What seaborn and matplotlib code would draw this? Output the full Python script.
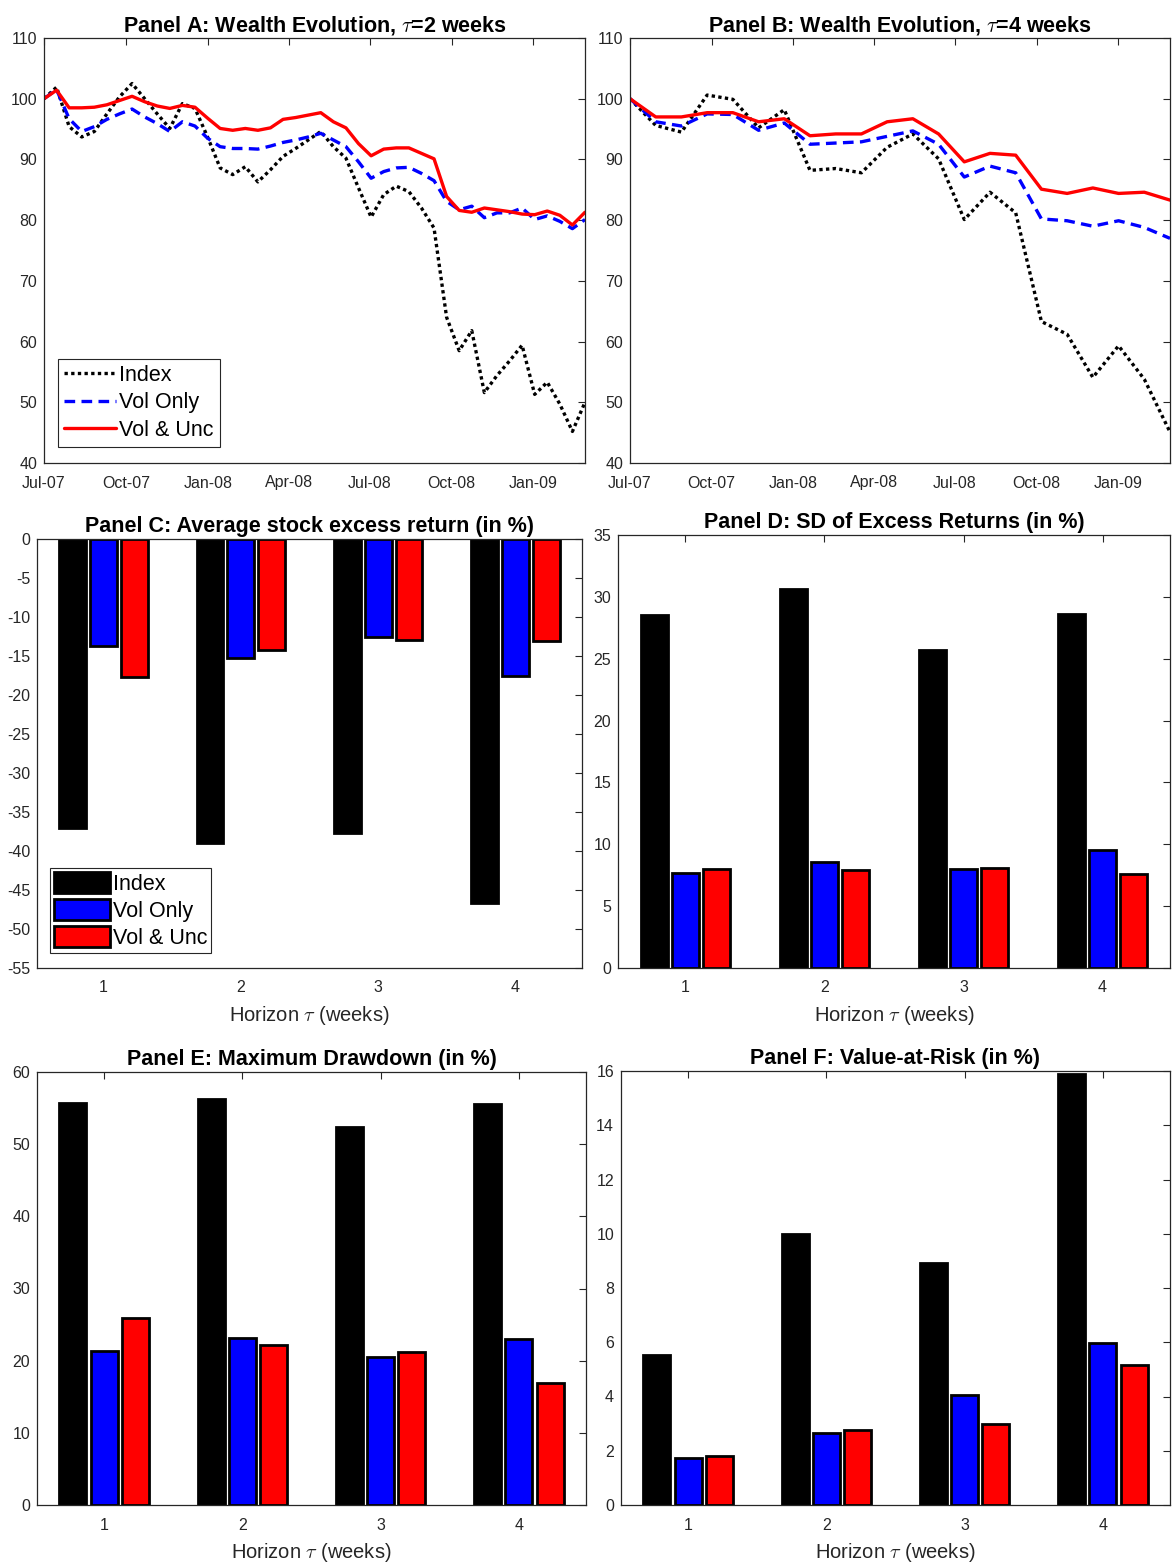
import numpy as np
import pandas as pd
import matplotlib
matplotlib.use("Agg")
import matplotlib.pyplot as plt
import matplotlib.dates as mdates
from matplotlib.patches import Patch
from matplotlib.lines import Line2D
import seaborn as sns

sns.set_style("white")
plt.rcParams["font.family"] = ["Liberation Sans", "DejaVu Sans"]
plt.rcParams["mathtext.fontset"] = "cm"
plt.rcParams["axes.unicode_minus"] = False

# ---------------- data ----------------
start_date = "2007-07-01"
end_date = "2009-02-28"

# Panel A (tau = 2 weeks), 44 bi-weekly observations
index_a = [100, 101.9, 95.4, 93.7, 94.6, 97.5, 100.3, 102.5, 100.0, 97.5, 95.1, 99.2,
           98.4, 93.7, 88.6, 87.5, 88.8, 86.3, 88.3, 90.5, 91.8, 93.2, 94.6, 92.1,
           90.2, 85.3, 80.5, 84.2, 85.6, 84.7, 82.0, 78.7, 64.0, 58.5, 61.8, 51.6,
           54.4, 56.8, 59.4, 51.3, 53.3, 49.7, 45.2, 50.0]
vol_a = [100, 101.5, 96.7, 94.6, 95.4, 96.6, 97.5, 98.3, 97.0, 95.9, 94.6, 96.2,
         95.5, 93.5, 92.1, 91.8, 91.8, 91.7, 92.2, 92.8, 93.2, 93.7, 94.3, 93.2,
         92.1, 89.6, 86.9, 88.0, 88.6, 88.7, 87.7, 86.5, 83.1, 81.7, 82.3, 80.4,
         81.2, 81.2, 82.0, 80.1, 80.7, 79.8, 78.6, 80.1]
unc_a = [100, 101.4, 98.5, 98.5, 98.6, 99.0, 99.7, 100.4, 99.5, 98.8, 98.4, 98.9,
         98.6, 96.8, 95.1, 94.8, 95.1, 94.8, 95.2, 96.6, 96.9, 97.3, 97.7, 96.2,
         95.2, 92.6, 90.6, 91.7, 91.9, 91.9, 91.0, 90.1, 83.9, 81.6, 81.3, 82.0,
         81.7, 81.4, 81.0, 80.9, 81.5, 80.8, 79.2, 81.3]

# Panel B (tau = 4 weeks), 22 four-weekly observations
index_b = [100, 95.6, 94.5, 100.6, 99.9, 95.2, 98.2, 88.2, 88.5, 87.8, 92.0, 94.2,
           90.1, 80.1, 84.6, 81.2, 63.3, 61.2, 54.1, 59.3, 53.8, 45.1]
vol_b = [100, 96.2, 95.5, 97.5, 97.4, 94.8, 96.0, 92.5, 92.7, 92.9, 93.8, 94.7,
         92.5, 87.1, 88.9, 87.8, 80.2, 79.9, 79.0, 79.9, 78.8, 77.0]
unc_b = [100, 97.0, 97.0, 97.7, 97.7, 96.2, 96.7, 93.9, 94.2, 94.2, 96.2, 96.7,
         94.2, 89.6, 91.0, 90.7, 85.1, 84.4, 85.3, 84.4, 84.6, 83.3]

horizons = ["1", "2", "3", "4"]
series_names = ["Index", "Vol Only", "Vol & Unc"]
series_colors = ["#000000", "#0000ff", "#ff0000"]

# Panel C: average excess return (%)
ret_index = [-37.1, -39.0, -37.7, -46.7]
ret_vol = [-13.7, -15.2, -12.6, -17.6]
ret_unc = [-17.7, -14.2, -12.9, -13.1]
# Panel D: SD of excess returns (%)
sd_index = [28.5, 30.6, 25.7, 28.65]
sd_vol = [7.7, 8.6, 8.0, 9.5]
sd_unc = [8.0, 7.95, 8.1, 7.6]
# Panel E: maximum drawdown (%)
mdd_index = [55.7, 56.25, 52.4, 55.6]
mdd_vol = [21.4, 23.2, 20.5, 23.0]
mdd_unc = [25.9, 22.15, 21.2, 16.85]
# Panel F: value-at-risk (%)
var_index = [5.53, 9.98, 8.92, 15.9]
var_vol = [1.72, 2.64, 4.04, 5.99]
var_unc = [1.79, 2.78, 2.97, 5.17]

# ---------------- layout ----------------
W, H = 1174, 1563
fig = plt.figure(figsize=(W / 100, H / 100), dpi=100)


def rect(l, r, t, b):
    return [l / W, 1 - b / H, (r - l) / W, (b - t) / H]


AX_COL = "#262626"
TICK_FS = 11.5
TITLE_FS = 15.5
LEG_FS = 15.5
XLAB_FS = 14.5


def style_axes(ax):
    for s in ax.spines.values():
        s.set_visible(True)
        s.set_color(AX_COL)
        s.set_linewidth(0.9)
    ax.tick_params(direction="in", length=5, width=0.8, colors=AX_COL,
                   labelsize=TICK_FS, top=True, right=True,
                   labelcolor=AX_COL)
    ax.tick_params(axis="y", pad=5)
    ax.grid(False)
    ax.set_facecolor("white")


def wealth_panel(rect_px, idx, vol, unc, title, legend):
    ax = fig.add_axes(rect(*rect_px))
    n = len(idx)
    dates = pd.date_range(start_date, end_date, periods=n)
    df = pd.DataFrame({"date": dates, "Index": idx, "Vol Only": vol, "Vol & Unc": unc})
    sns.lineplot(data=df, x="date", y="Index", ax=ax, color="black", lw=2.4)
    ax.lines[-1].set_dashes([1, 1])
    sns.lineplot(data=df, x="date", y="Vol Only", ax=ax, color="#0000ff", lw=2.4)
    ax.lines[-1].set_dashes([3.2, 1.9])
    sns.lineplot(data=df, x="date", y="Vol & Unc", ax=ax, color="#ff0000", lw=2.4)
    ax.set_xlim(dates[0], dates[-1])
    ax.set_ylim(40, 110)
    ax.set_yticks(np.arange(40, 111, 10))
    ax.xaxis.set_major_locator(mdates.MonthLocator(bymonth=[1, 4, 7, 10]))
    ax.xaxis.set_major_formatter(mdates.DateFormatter("%b-%y"))
    ax.set_xlabel("")
    ax.set_ylabel("")
    style_axes(ax)
    ax.tick_params(axis="x", pad=9)
    ax.set_title(title, fontsize=TITLE_FS, fontweight="bold", pad=5, color="black")
    if legend:
        handles = [
            Line2D([], [], color="black", lw=2.4, dashes=[1, 1]),
            Line2D([], [], color="#0000ff", lw=2.4, dashes=[3.2, 1.9]),
            Line2D([], [], color="#ff0000", lw=2.4),
        ]
        leg = ax.legend(handles, series_names, loc="lower left",
                        bbox_to_anchor=(0.026, 0.038), borderaxespad=0,
                        fontsize=LEG_FS, handlelength=2.4, handletextpad=0.15,
                        labelspacing=0.3, borderpad=0.28, fancybox=False,
                        framealpha=1, edgecolor=AX_COL, labelcolor="black")
        leg.get_frame().set_linewidth(0.8)
    return ax


def bar_panel(rect_px, vals, title, ylim, yticks, legend=False):
    ax = fig.add_axes(rect(*rect_px))
    df = pd.DataFrame({
        "Horizon": horizons * 3,
        "Series": [s for s in series_names for _ in horizons],
        "Value": vals[0] + vals[1] + vals[2],
    })
    sns.barplot(data=df, x="Horizon", y="Value", hue="Series",
                palette=series_colors, width=0.675, gap=0.13,
                edgecolor="black", linewidth=2.0, errorbar=None,
                ax=ax, legend=False, saturation=1)
    ax.set_xlim(-0.485, 3.485)
    ax.set_ylim(*ylim)
    ax.set_yticks(yticks)
    ax.set_ylabel("")
    ax.set_xlabel(r"Horizon $\tau$ (weeks)", fontsize=XLAB_FS, color=AX_COL, labelpad=6)
    style_axes(ax)
    ax.tick_params(axis="x", pad=9)
    ax.set_title(title, fontsize=TITLE_FS, fontweight="bold", pad=5, color="black")
    if legend:
        handles = [Patch(facecolor=c, edgecolor="black", linewidth=2.0) for c in series_colors]
        leg = ax.legend(handles, series_names, loc="lower left",
                        bbox_to_anchor=(0.024, 0.035), borderaxespad=0,
                        fontsize=LEG_FS, handlelength=2.6, handleheight=1.1,
                        handletextpad=0.1, labelspacing=0.2, borderpad=0.2,
                        fancybox=False, framealpha=1, edgecolor=AX_COL,
                        labelcolor="black")
        leg.get_frame().set_linewidth(0.8)
    return ax


wealth_panel((44, 585, 38, 463), index_a, vol_a, unc_a,
             r"Panel A: Wealth Evolution, $\tau$=2 weeks", True)
wealth_panel((630, 1170, 38, 463), index_b, vol_b, unc_b,
             r"Panel B: Wealth Evolution, $\tau$=4 weeks", False)

bar_panel((37, 582, 539, 968), [ret_index, ret_vol, ret_unc],
          "Panel C: Average stock excess return (in %)", (-55, 0),
          np.arange(-55, 1, 5), legend=True)
bar_panel((618, 1170, 535, 968), [sd_index, sd_vol, sd_unc],
          "Panel D: SD of Excess Returns (in %)", (0, 35), np.arange(0, 36, 5))
bar_panel((37, 586, 1072, 1505), [mdd_index, mdd_vol, mdd_unc],
          "Panel E: Maximum Drawdown (in %)", (0, 60), np.arange(0, 61, 10))
bar_panel((621, 1170, 1071, 1505), [var_index, var_vol, var_unc],
          "Panel F: Value-at-Risk (in %)", (0, 16), np.arange(0, 17, 2))

fig.savefig("out.png", dpi=100, facecolor="white")
